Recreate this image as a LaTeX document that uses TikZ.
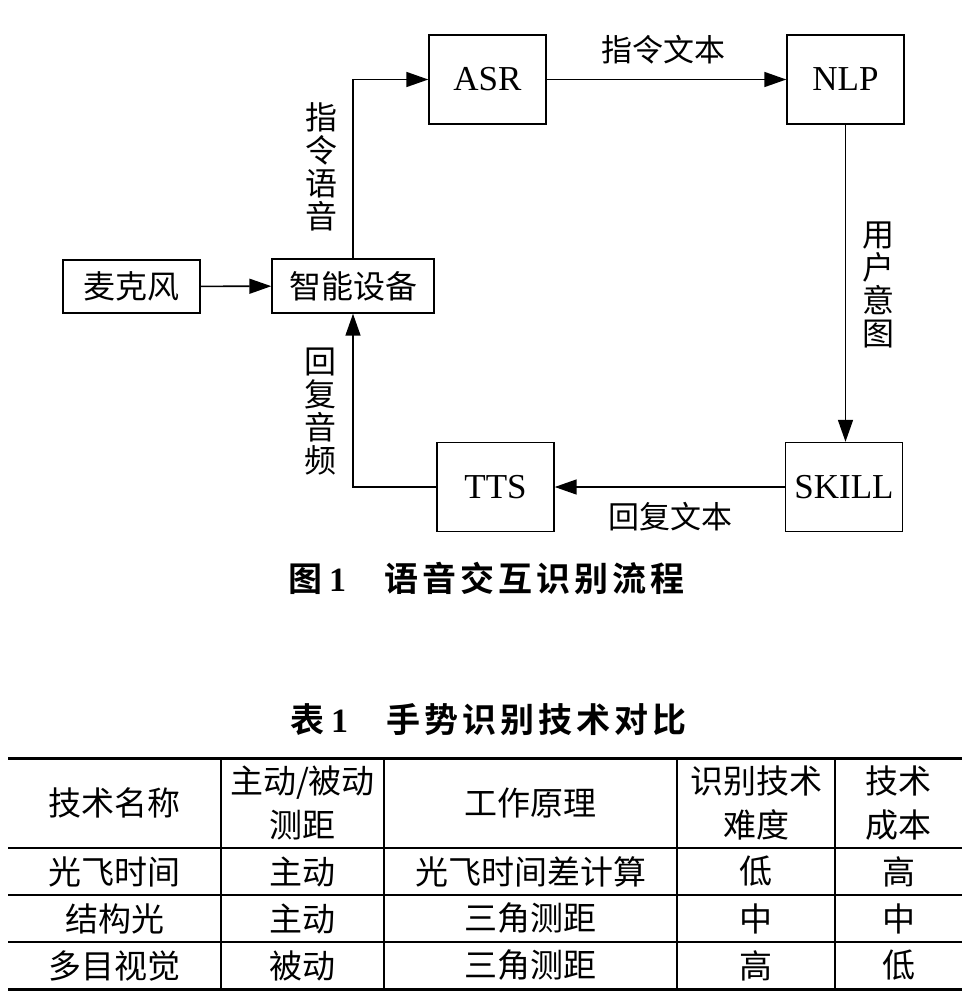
\documentclass[tikz,border=0pt]{standalone}
\usepackage{fontspec}
\setmainfont{Liberation Serif}
\newfontfamily\cjk{Noto Sans CJK SC}
\newfontfamily\cjkcap[LetterSpace=12]{Noto Sans CJK SC Bold}
\usetikzlibrary{arrows.meta}
\begin{document}
\begin{tikzpicture}[x=1pt,y=-1pt,
  box/.style={draw, line width=1.4pt, inner sep=0pt, minimum width=117pt, minimum height=89pt, font=\fontsize{35}{35}\selectfont},
  cbox/.style={draw, line width=1.4pt, inner sep=0pt, font=\cjk\fontsize{32}{32}\selectfont},
  lab/.style={inner sep=0pt, font=\cjk\fontsize{31}{31}\selectfont},
  vlab/.style={inner sep=0pt, align=center, font=\cjk\fontsize{32}{33}\selectfont},
  conn/.style={line width=1.6pt, -{Triangle[length=22pt,width=15pt]}},
  captext/.style={inner sep=0pt, anchor=west, font=\fontsize{34}{34}\selectfont},
  thickrule/.style={line width=3pt},
  thinrule/.style={line width=1.5pt},
  colrule/.style={line width=1.3pt},
  tcell/.style={inner sep=0pt, align=center, font=\cjk\fontsize{33}{44}\selectfont}]
\useasboundingbox (0,0) rectangle (970,1005);
% diagram nodes
\node[cbox, minimum width=137pt, minimum height=53pt] (mic) at (131.5,286.5) {麦克风};
\node[cbox, minimum width=162pt, minimum height=54pt] (dev) at (353,286) {智能设备};
\node[box] (asr) at (487.5,79.5) {ASR};
\node[box] (nlp) at (845.5,79.5) {NLP};
\node[box] (tts) at (495.5,487) {TTS};
\node[box] (skill) at (844,487) {SKILL};
% connectors
\draw[conn] (mic) -- (dev);
\draw[conn] (dev.north) |- (asr.west);
\draw[conn] (asr) -- (nlp);
\draw[conn] (nlp.south) -- (nlp.south |- skill.north);
\draw[conn] (skill) -- (tts);
\draw[conn] (tts.west) -| (dev.south);
% labels
\node[lab] (l1) at (663,50) {指令文本};
\node[lab] (l2) at (670,517) {回复文本};
\node[vlab] (l3) at (321,167) {指\\令\\语\\音};
\node[vlab] (l4) at (878,285) {用\\户\\意\\图};
\node[vlab] (l5) at (320,412) {回\\复\\音\\频};
% captions
\node[captext] (fig) at (288,578) {{\cjkcap 图}\hspace{7pt}{\bfseries 1}\hspace{38pt}{\cjkcap 语音交互识别流程}};
\node[captext] (tab) at (290,720) {{\cjkcap 表}\hspace{7pt}{\bfseries 1}\hspace{38pt}{\cjkcap 手势识别技术对比}};
% table rules
\draw[thickrule] (8,758) -- (962,758);
\draw[thinrule] (8,848) -- (962,848);
\draw[thinrule] (8,895) -- (962,895);
\draw[thinrule] (8,942) -- (962,942);
\draw[thickrule] (8,989) -- (962,989);
\foreach \cx in {221,384,677,835} \draw[colrule] (\cx,758) -- (\cx,989);
% table cells
\node[tcell] (h1) at (114.5,803) {技术名称};
\node[tcell] (h2) at (302.5,803) {主动/被动\\测距};
\node[tcell] (h3) at (530.5,803) {工作原理};
\node[tcell] (h4) at (756,803) {识别技术\\难度};
\node[tcell] (h5) at (898.5,803) {技术\\成本};
\node[tcell] (a1) at (114.5,871.5) {光飞时间};
\node[tcell] (a2) at (302.5,871.5) {主动};
\node[tcell] (a3) at (530.5,871.5) {光飞时间差计算};
\node[tcell] (a4) at (756,871.5) {低};
\node[tcell] (a5) at (898.5,871.5) {高};
\node[tcell] (b1) at (114.5,918.5) {结构光};
\node[tcell] (b2) at (302.5,918.5) {主动};
\node[tcell] (b3) at (530.5,918.5) {三角测距};
\node[tcell] (b4) at (756,918.5) {中};
\node[tcell] (b5) at (898.5,918.5) {中};
\node[tcell] (c1) at (114.5,965.5) {多目视觉};
\node[tcell] (c2) at (302.5,965.5) {被动};
\node[tcell] (c3) at (530.5,965.5) {三角测距};
\node[tcell] (c4) at (756,965.5) {高};
\node[tcell] (c5) at (898.5,965.5) {低};
\end{tikzpicture}
\end{document}
